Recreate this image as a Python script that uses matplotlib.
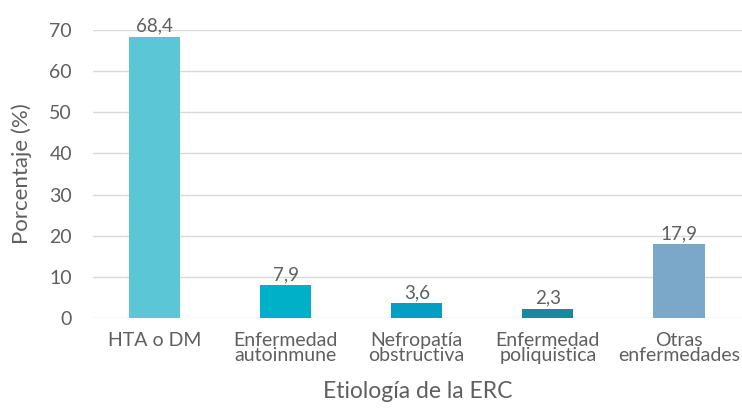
import matplotlib.pyplot as plt

categories = ["HTA o DM", "Enfermedad\nautoinmune", "Nefropatía\nobstructiva",
              "Enfermedad\npoliquistica", "Otras\nenfermedades"]
values = [68.4, 7.9, 3.6, 2.3, 17.9]
labels = ["68,4", "7,9", "3,6", "2,3", "17,9"]
colors = ["#5BC6D5", "#00B0C8", "#049DC4", "#198A9E", "#7BA7C8"]
yticks = [0, 10, 20, 30, 40, 50, 60, 70]

plt.rcParams['font.family'] = ['Lato', 'DejaVu Sans']
gray = "#5F5F5F"

fig = plt.figure(figsize=(7.42, 4.08), dpi=100)
ax = fig.add_axes([0.125, 0.2206, 0.875, 0.7059])

x = range(len(categories))
bars = ax.bar(x, values, width=0.39, color=colors, zorder=3)
for rect, lab in zip(bars, labels):
    ax.annotate(lab, xy=(rect.get_x() + rect.get_width() / 2, rect.get_height()),
                xytext=(0, 1.5), textcoords="offset points", ha='center', va='bottom',
                fontsize=13.5, color=gray, annotation_clip=False)

ax.set_ylim(0, 70)
ax.set_xlim(-0.47, 4.48)
ax.set_yticks(yticks)
ax.set_yticklabels([str(t) for t in yticks], fontsize=14, color=gray)
ax.set_xticks(list(x))
ax.set_xticklabels(categories, fontsize=14, color=gray, linespacing=0.88)
ax.tick_params(length=0, pad=10)
ax.tick_params(axis='y', pad=15)
ax.grid(axis='y', color='#D9D9D9', linewidth=1, zorder=0)
for s in ax.spines.values():
    s.set_visible(False)

ax.set_ylabel("Porcentaje (%)", fontsize=16, color=gray, labelpad=12)
ax.set_xlabel("Etiología de la ERC", fontsize=16.5, color=gray, labelpad=12)

fig.savefig("out.png", dpi=100)
